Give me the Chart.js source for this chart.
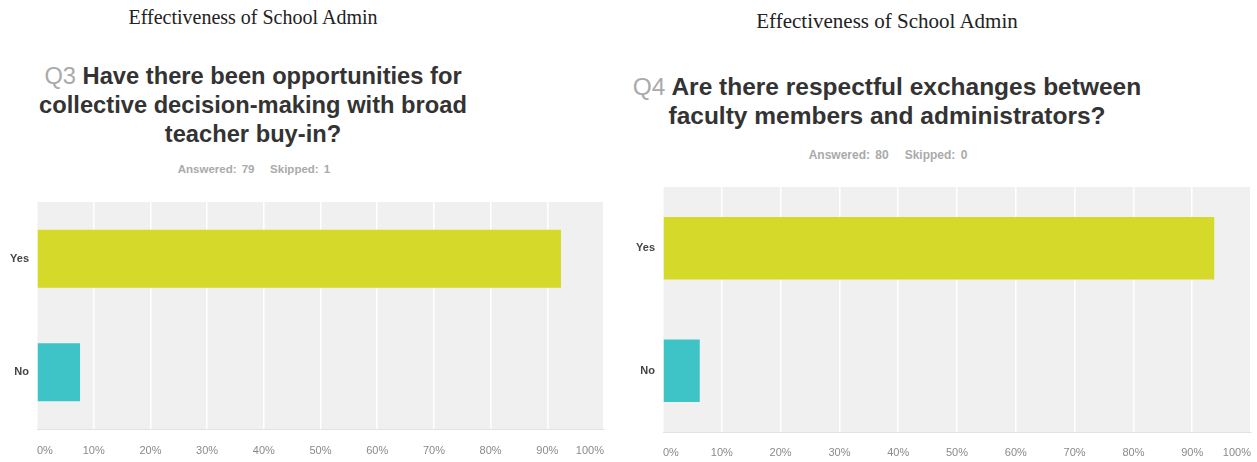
<!DOCTYPE html>
<html>
<head>
<meta charset="utf-8">
<script src="https://cdn.jsdelivr.net/npm/chart.js@4.4.1/dist/chart.umd.min.js"></script>
<style>
  body { margin: 0; width: 1257px; height: 462px; background: #fff; position: relative; overflow: hidden; }
  .sheet { position: absolute; font-family: "Liberation Serif", serif; color: #222; text-align: center; white-space: nowrap; }
  .q { position: absolute; font-family: "Liberation Sans", Arial, sans-serif; font-weight: bold; line-height: 29px; color: #333; text-align: center; white-space: nowrap; }
  .q span { color: #aaa; font-weight: normal; }
  .meta { position: absolute; font-family: "Liberation Sans", Arial, sans-serif; font-weight: bold; color: #aaa; text-align: center; word-spacing: 2px; white-space: nowrap; }
  canvas { position: absolute; }
</style>
</head>
<body>
<div class="sheet" style="left:0;top:6px;width:506px;font-size:20px;">Effectiveness of School Admin</div>
<div class="sheet" style="left:630px;top:9px;width:514px;font-size:21px;">Effectiveness of School Admin</div>

<div class="q" style="left:0;top:62px;width:506px;font-size:23.7px;"><span>Q3</span> Have there been opportunities for<br>collective decision-making with broad<br>teacher buy-in?</div>
<div class="q" style="left:630px;top:72px;width:514px;font-size:24.5px;"><span>Q4</span> Are there respectful exchanges between<br>faculty members and administrators?</div>

<div class="meta" style="left:0;top:163px;width:508px;font-size:11.5px;">Answered: 79 &nbsp; Skipped: 1</div>
<div class="meta" style="left:630px;top:148px;width:516px;font-size:12px;">Answered: 80 &nbsp; Skipped: 0</div>

<canvas id="q3Chart" width="610" height="267" style="left:0;top:195px;"></canvas>
<canvas id="q4Chart" width="627" height="282" style="left:630px;top:180px;"></canvas>

<script>
const categories = ["Yes", "No"];
const q3Values = [92.41, 7.59];
const q4Values = [93.75, 6.25];
const tickLabels = ["0%", "10%", "20%", "30%", "40%", "50%", "60%", "70%", "80%", "90%", "100%"];
const barColors = ["#d4d92a", "#3ec4c6"];

// gray plot background
const plotBg = {
  id: "plotBg",
  beforeDraw(chart) {
    const a = chart.chartArea;
    const ctx = chart.ctx;
    ctx.save();
    ctx.fillStyle = "#f0f0f0";
    ctx.fillRect(a.left, a.top, a.right - a.left, a.bottom - a.top);
    ctx.restore();
  }
};

function makeChart(id, values, yWidth, xHeight, labelPad) {
  return new Chart(document.getElementById(id), {
    type: "bar",
    data: {
      labels: categories,
      datasets: [{
        data: values,
        backgroundColor: barColors,
        barPercentage: 0.51,
        categoryPercentage: 1
      }]
    },
    options: {
      indexAxis: "y",
      responsive: false,
      animation: false,
      layout: { padding: { top: 7, right: 6, left: 0, bottom: 0 } },
      plugins: { legend: { display: false }, tooltip: { enabled: false } },
      scales: {
        x: {
          min: 0,
          max: 100,
          ticks: {
            stepSize: 10,
            align: "inner",
            padding: labelPad,
            color: "#8a8a8a",
            font: { family: "Liberation Sans", size: 11 },
            callback: (v, i) => tickLabels[i]
          },
          grid: { color: "#ffffff", lineWidth: 1.5, drawTicks: false },
          border: { display: true, color: "#e2e2e2" },
          afterFit(s) { s.height = xHeight; s.paddingLeft = 0; s.paddingRight = 0; }
        },
        y: {
          ticks: {
            padding: 8,
            color: "#444",
            font: { family: "Liberation Sans", size: 11, weight: "bold" }
          },
          grid: { display: false, drawTicks: false },
          border: { display: false },
          afterFit(s) { s.width = yWidth; s.paddingTop = 0; s.paddingBottom = 0; }
        }
      }
    },
    plugins: [plotBg]
  });
}

makeChart("q3Chart", q3Values, 37, 33, 15);
makeChart("q4Chart", q4Values, 33, 30, 14);
</script>
</body>
</html>
